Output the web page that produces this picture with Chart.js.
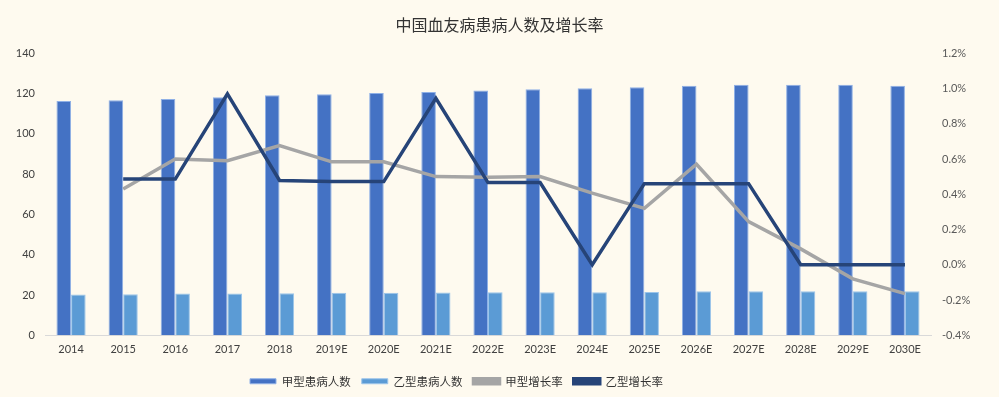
<!DOCTYPE html>
<html>
<head>
<meta charset="utf-8">
<script src="https://cdn.jsdelivr.net/npm/chart.js@4"></script>
<style>
  html, body { margin: 0; padding: 0; background: #fefaef; }
  #wrap { width: 999px; height: 397px; }
</style>
</head>
<body>
<div id="wrap"><canvas id="chart"></canvas></div>
<script>
const years = ['2014', '2015', '2016', '2017', '2018', '2019E', '2020E', '2021E', '2022E',
    '2023E', '2024E', '2025E', '2026E', '2027E', '2028E', '2029E', '2030E'];

// patients (left axis)
const typeA = [116.3, 116.6, 117.3, 118.1, 119.1, 119.6, 120.3, 120.8, 121.5,
    122.1, 122.6, 123.1, 123.9, 124.3, 124.3, 124.3, 123.8];
const typeB = [20.3, 20.4, 20.8, 20.8, 20.9, 21.1, 21.1, 21.2, 21.4,
    21.4, 21.4, 21.5, 21.9, 21.9, 21.9, 21.9, 21.9];

// growth rates in % (right axis)
const growthA = [null, 0.43, 0.60, 0.59, 0.676, 0.584, 0.584, 0.50, 0.497,
    0.50, 0.406, 0.32, 0.57, 0.245, 0.09, -0.08, -0.164];
const growthB = [null, 0.486, 0.486, 0.969, 0.478, 0.472, 0.472, 0.944, 0.466,
    0.466, 0, 0.46, 0.46, 0.46, 0, 0, 0];

const leftTicks = { min: 0, max: 140, step: 20 };
const rightTicks = { min: -0.4, max: 1.2, step: 0.2 };

const bgPlugin = {
    id: 'bg',
    beforeDraw(chart) {
        const c = chart.ctx;
        c.save();
        c.fillStyle = '#fefaef';
        c.fillRect(0, 0, chart.width, chart.height);
        c.restore();
    }
};

// legend in the original sits a bit left of centre
const legendShift = {
    id: 'legendShift',
    afterLayout(chart) {
        chart.legend.left -= 43;
        chart.legend.right -= 43;
    }
};

const tickFont = { family: 'Lato, "Liberation Sans", sans-serif', size: 11 };

new Chart(document.getElementById('chart'), {
    type: 'bar',
    data: {
        labels: years,
        datasets: [
            { label: '甲型患病人数', data: typeA, backgroundColor: '#4472C4', borderColor: '#8fb0e6', borderWidth: 1, yAxisID: 'y', order: 3 },
            { label: '乙型患病人数', data: typeB, backgroundColor: '#5B9BD5', borderColor: '#9cc5ea', borderWidth: 1, yAxisID: 'y', order: 4 },
            { type: 'line', label: '甲型增长率', data: growthA, borderColor: '#A5A5A5', backgroundColor: '#A5A5A5', borderWidth: 3.5, pointRadius: 0, tension: 0, yAxisID: 'y1', order: 2 },
            { type: 'line', label: '乙型增长率', data: growthB, borderColor: '#264478', backgroundColor: '#264478', borderWidth: 3.5, pointRadius: 0, tension: 0, yAxisID: 'y1', order: 1 }
        ]
    },
    options: {
        responsive: true,
        maintainAspectRatio: false,
        animation: false,
        categoryPercentage: 0.56,
        barPercentage: 1.0,
        layout: { padding: { top: 15, bottom: 0, left: 0, right: 0 } },
        plugins: {
            title: {
                display: true,
                text: '中国血友病患病人数及增长率',
                color: '#333333',
                font: { family: '"Noto Sans CJK SC"', size: 16, weight: 'normal' },
                padding: { top: 0, bottom: 19 }
            },
            legend: {
                position: 'bottom',
                labels: {
                    sort: (a, b) => a.datasetIndex - b.datasetIndex,
                    boxWidth: 26,
                    boxHeight: 5,
                    padding: 11,
                    color: '#333333',
                    font: { family: '"Noto Sans CJK SC"', size: 11.5 }
                }
            },
            tooltip: { enabled: false }
        },
        scales: {
            x: {
                grid: { display: false, drawTicks: false },
                border: { color: '#d9d9d9', width: 1 },
                ticks: { color: '#404040', font: tickFont, padding: 8, maxRotation: 0 }
            },
            y: {
                position: 'left',
                min: leftTicks.min,
                max: leftTicks.max,
                grid: { display: false, drawTicks: false },
                border: { display: false },
                ticks: { stepSize: leftTicks.step, color: '#404040', font: tickFont, padding: 10 },
                afterFit(scale) { scale.width = 45; }
            },
            y1: {
                position: 'right',
                min: rightTicks.min,
                max: rightTicks.max,
                grid: { display: false, drawTicks: false },
                border: { display: false },
                ticks: {
                    stepSize: rightTicks.step,
                    color: '#595959',
                    font: tickFont,
                    padding: 11,
                    callback: v => v.toFixed(1) + '%'
                },
                afterFit(scale) { scale.width = 68; }
            }
        }
    },
    plugins: [bgPlugin, legendShift]
});
</script>
</body>
</html>
